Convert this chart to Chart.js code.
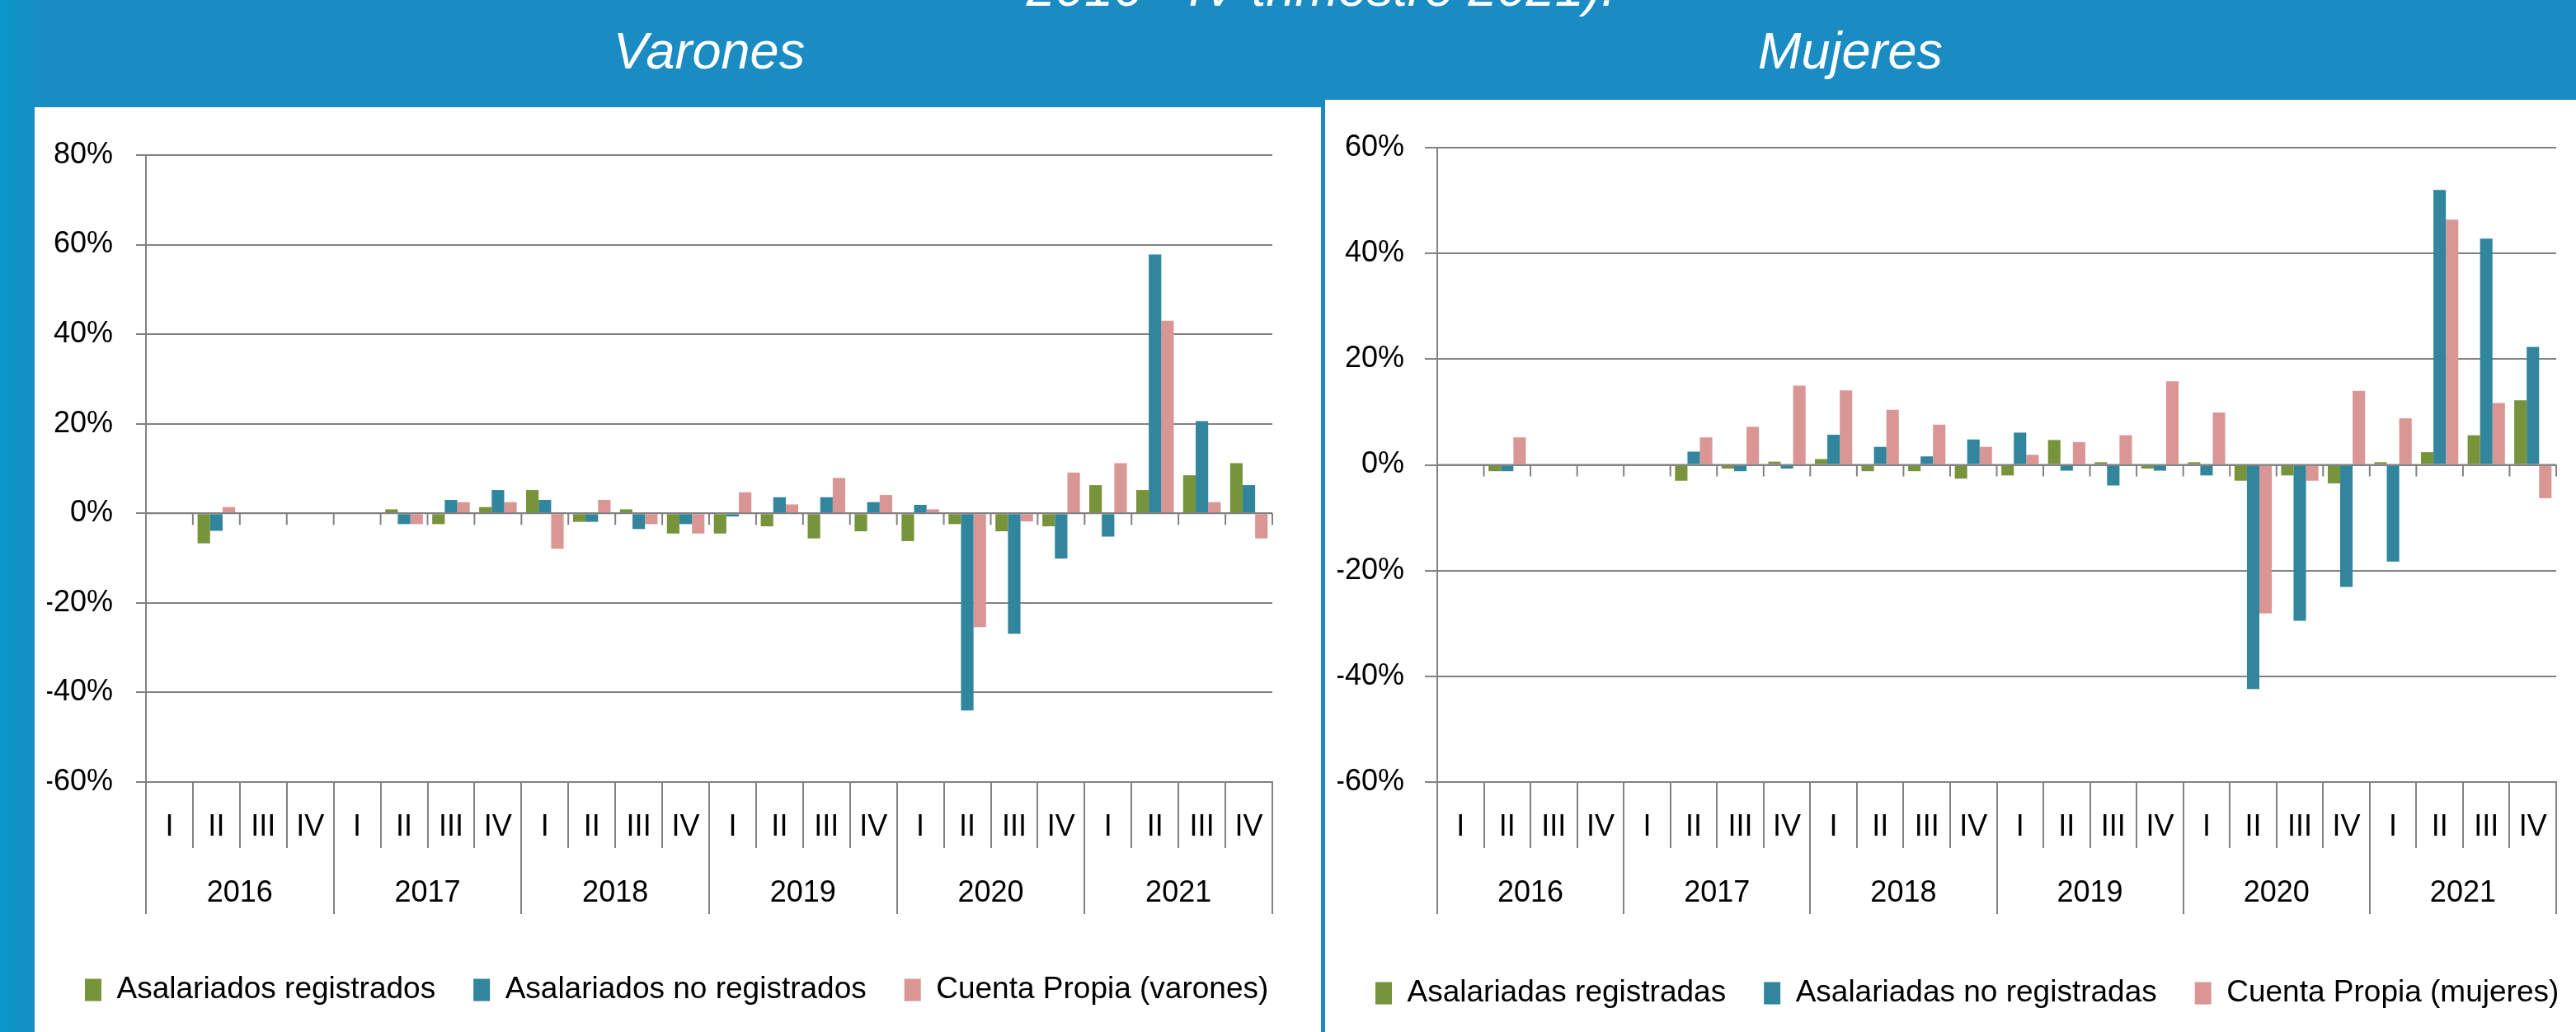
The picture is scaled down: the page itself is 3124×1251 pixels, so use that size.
<!DOCTYPE html>
<html lang="es">
<head>
    <meta charset="UTF-8">
    <title>Varones / Mujeres</title>
    <script src="https://cdn.jsdelivr.net/npm/chart.js@4.4.1/dist/chart.umd.min.js"></script>
    <style>
        html, body { margin: 0; padding: 0; }
        body {
            width: 3124px; height: 1251px; overflow: hidden; position: relative;
            background: linear-gradient(90deg, #0a96c9 0px, #1a8cc3 50px, #1a8cc3 100%);
            font-family: 'Liberation Sans', Arial, sans-serif;
        }
        .panel { position: absolute; background: #fff; overflow: hidden; }
        .t {
            position: absolute; color: #fff; font-style: italic;
            font-size: 63px; line-height: 63px; text-align: center; white-space: nowrap;
        }
    </style>
</head>
<body>
    <div class="t" style="left:1102px; width:1000px; top:-46px;">2016 - IV trimestre 2021).</div>
    <div class="t" style="left:560px; width:600px; top:30px;">Varones</div>
    <div class="t" style="left:1944px; width:600px; top:30px;">Mujeres</div>

    <div class="panel" style="left:42px; top:130px; width:1560px; height:1121px;">
        <canvas id="varones" width="1560" height="1121"></canvas>
    </div>
    <div class="panel" style="left:1607px; top:121px; width:1517px; height:1130px;">
        <canvas id="mujeres" width="1560" height="1130"></canvas>
    </div>

    <script>
        // Datos (variación interanual, %)
        const years = ['2016', '2017', '2018', '2019', '2020', '2021'];
        const quarters = ['I', 'II', 'III', 'IV'];

        const varRegistrados   = [null, -6.7, null, null,  null,  0.9, -2.4, 1.4,  5.2, -1.9,  0.9, -4.5,  -4.5, -2.9, -5.6, -4.0,  -6.2,  -2.4,  -4.0,  -2.9,   6.3,  5.2,  8.5, 11.2];
        const varNoRegistrados = [null, -3.9, null, null,  null, -2.4,  3.0, 5.2,  3.0, -1.9, -3.5, -2.4,  -0.7,  3.6,  3.6,  2.5,   1.9, -44.0, -26.9, -10.1,  -5.2, 57.8, 20.6,  6.3];
        const varCuentaPropia  = [null,  1.4, null, null,  null, -2.4,  2.5, 2.5, -7.9,  3.0, -2.4, -4.5,   4.7,  2.0,  7.9,  4.1,   0.9, -25.4,  -1.8,   9.1,  11.2, 43.0,  2.5, -5.6];

        const mujRegistradas   = [null, -1.2, null, null,  null, -3.0, -0.7,  0.6,  1.1, -1.2, -1.2, -2.6,  -2.0,  4.7,  0.5, -0.7,   0.5,  -3.0,  -2.0,  -3.5,   0.5,  2.4,  5.6, 12.2];
        const mujNoRegistradas = [null, -1.2, null, null,  null,  2.5, -1.2, -0.7,  5.7,  3.4,  1.6,  4.8,   6.1, -1.1, -3.9, -1.1,  -2.0, -42.4, -29.5, -23.1, -18.3, 52.0, 42.8, 22.3];
        const mujCuentaPropia  = [null,  5.2, null, null,  null,  5.2,  7.2, 15.0, 14.1, 10.4,  7.6,  3.4,   1.9,  4.3,  5.6, 15.8,   9.9, -28.1,  -3.0,  14.0,   8.8, 46.4, 11.7, -6.3];

        const varLabels = ['Asalariados registrados', 'Asalariados no registrados', 'Cuenta Propia (varones)'];
        const mujLabels = ['Asalariadas registradas', 'Asalariadas no registradas', 'Cuenta Propia (mujeres)'];

        const quarterLabels = years.flatMap(() => quarters);

        const COLORS = ['#77933c', '#31859c', '#d99694'];
        const GRID = '#828282';
        const FONT = "'Liberation Sans', Arial, sans-serif";

        // eje horizontal en el cero, con marcas entre trimestres
        const zeroAxis = {
            id: 'zeroAxis',
            afterDatasetsDraw(chart) {
                const { ctx, chartArea, scales: { x, y } } = chart;
                const y0 = y.getPixelForValue(0);
                ctx.save();
                ctx.strokeStyle = GRID;
                ctx.lineWidth = 2;
                ctx.beginPath();
                ctx.moveTo(chartArea.left, y0);
                ctx.lineTo(chartArea.right, y0);
                for (let i = 0; i <= x.getLabels().length; i++) {
                    const px = x.getPixelForValue(i - 0.5);
                    ctx.moveTo(px, y0);
                    ctx.lineTo(px, y0 + 14);
                }
                ctx.stroke();
                ctx.restore();
            }
        };

        function buildChart(id, series, names, yMin, yMax, geo) {
            const font = { family: FONT, size: 36 };
            return new Chart(document.getElementById(id), {
                type: 'bar',
                data: {
                    labels: quarterLabels,
                    datasets: series.map((d, i) => ({
                        label: names[i],
                        data: d,
                        backgroundColor: COLORS[i],
                        borderWidth: 0,
                        categoryPercentage: 0.8,
                        barPercentage: 1
                    }))
                },
                options: {
                    responsive: false,
                    animation: false,
                    layout: { padding: { top: geo.top, right: 0, bottom: geo.bottom, left: 15 } },
                    plugins: {
                        legend: {
                            position: 'bottom',
                            align: 'start',
                            labels: {
                                boxWidth: 20, boxHeight: 27, padding: 46,
                                color: '#000', font: { family: FONT, size: 37 }
                            }
                        },
                        tooltip: { enabled: false }
                    },
                    scales: {
                        x: {
                            position: 'bottom', weight: 0, offset: true,
                            grid: { offset: true, drawOnChartArea: false, tickLength: 80, color: GRID, lineWidth: 2 },
                            border: { display: true, color: GRID, width: 2 },
                            ticks: { color: '#000', font, padding: -47, autoSkip: false, maxRotation: 0 },
                            afterFit: s => { s.height = 80; }
                        },
                        years: {
                            type: 'category', labels: years, position: 'bottom', weight: 1, offset: true,
                            grid: { offset: true, drawOnChartArea: false, tickLength: 80, color: GRID, lineWidth: 2 },
                            border: { display: false },
                            ticks: { color: '#000', font, padding: -47, autoSkip: false, maxRotation: 0 },
                            afterFit: s => { s.height = geo.yearsH; }
                        },
                        y: {
                            min: yMin, max: yMax,
                            ticks: { stepSize: 20, callback: v => v + '%', padding: geo.pad, color: '#000', font },
                            grid: { color: GRID, lineWidth: 2, tickLength: geo.tick },
                            border: { color: GRID, width: 2 },
                            afterFit: s => { s.width = geo.yW; }
                        },
                        // margen derecho vacío: deja el ancho completo a la leyenda
                        margen: {
                            type: 'linear', position: 'right',
                            grid: { display: false, drawTicks: false },
                            border: { display: false },
                            ticks: { display: false },
                            afterFit: s => { s.width = geo.right; }
                        }
                    }
                },
                plugins: [zeroAxis]
            });
        }

        buildChart('varones', [varRegistrados, varNoRegistrados, varCuentaPropia], varLabels, -60, 80,
            { top: 58, right: 59, bottom: 22.5, yearsH: 107.5, yW: 120, tick: 12, pad: 28 });
        buildChart('mujeres', [mujRegistradas, mujNoRegistradas, mujCuentaPropia], mujLabels, -60, 60,
            { top: 58, right: 67, bottom: 18.5, yearsH: 111.5, yW: 121, tick: 15, pad: 25 });
    </script>
</body>
</html>
